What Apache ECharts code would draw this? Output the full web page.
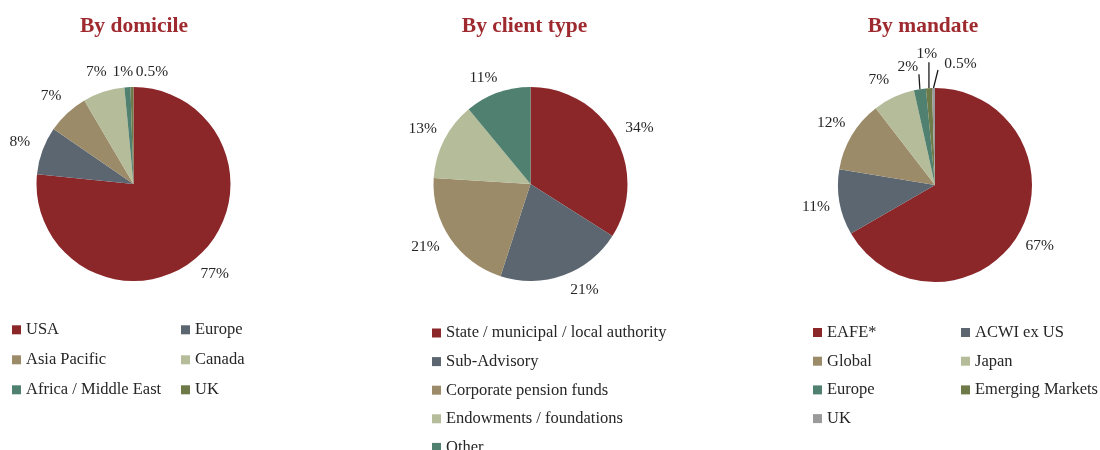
<!DOCTYPE html>
<html>
<head>
<meta charset="utf-8">
<script src="https://cdn.jsdelivr.net/npm/echarts@6/dist/echarts.min.js"></script>
<style>
  html, body { margin: 0; padding: 0; background: #ffffff; }
  #wrap { position: relative; width: 1100px; height: 450px; overflow: hidden; }
  .panel { position: absolute; top: 0; height: 480px; }
</style>
</head>
<body>
<div id="wrap">
  <div id="domicile" class="panel" style="left:0;width:268px"></div>
  <div id="client" class="panel" style="left:340px;width:369px"></div>
  <div id="mandate" class="panel" style="left:746px;width:354px"></div>
</div>
<script>
// ---- Data (percent of assets) ----
const domicileTitle = 'By domicile';
const domicileNames = ['USA', 'Europe', 'Asia Pacific', 'Canada', 'Africa / Middle East', 'UK'];
const domicileValues = [77, 8, 7, 7, 1, 0.5];

const clientTitle = 'By client type';
const clientNames = ['State / municipal / local authority', 'Sub-Advisory', 'Corporate pension funds',
  'Endowments / foundations', 'Other'];
const clientValues = [34, 21, 21, 13, 11];

const mandateTitle = 'By mandate';
const mandateNames = ['EAFE*', 'ACWI ex US', 'Global', 'Japan', 'Europe', 'Emerging Markets', 'UK'];
const mandateValues = [67, 11, 12, 7, 2, 1, 0.5];

// ---- Styling ----
const FONT = '"Liberation Serif", "Times New Roman", serif';
const TEXT = '#262626';
const TITLE_COLOR = '#9E2A2F';
const RED = '#8B2629', SLATE = '#5B6670', KHAKI = '#9C8B69', SAGE = '#B5BC99',
      TEAL = '#4F8070', OLIVE = '#6E7A48', GREY = '#9A9A9A';

const domicileColors = [RED, SLATE, KHAKI, SAGE, TEAL, OLIVE];
const clientColors = [RED, SLATE, KHAKI, SAGE, TEAL];
const mandateColors = [RED, SLATE, KHAKI, SAGE, TEAL, OLIVE, GREY];

const RADIUS = 97;
const LABEL_GAP = 24;

// Places each percentage label along its slice's mid-angle, outside the rim.
// tweaks[i] may nudge a label (dx/dy) or turn it into a callout with a leader line.
function radialLabels(values, cx, cy, r, gap, tweaks) {
  const total = values.reduce((a, b) => a + b, 0);
  return function (p) {
    const i = p.dataIndex;
    let before = 0;
    for (let k = 0; k < i; k++) before += values[k];
    const mid = (before + values[i] / 2) / total * Math.PI * 2;
    const sx = Math.sin(mid), sy = -Math.cos(mid);
    const ex = cx + r * sx, ey = cy + r * sy;
    const t = tweaks[i] || {};
    let x, y;
    if (t.callout) {
      x = ex + t.callout[0];
      y = ey + t.callout[1];
    } else {
      const d = r + gap;
      x = cx + d * sx + (t.dx || 0);
      y = cy + d * sy + (t.dy || 0);
    }
    const out = { x: x, y: y, align: 'center', verticalAlign: 'middle' };
    if (t.line) {
      const lx = ex + t.line[0], ly = ey + t.line[1];
      out.labelLinePoints = [[ex, ey], [(ex + lx) / 2, (ey + ly) / 2], [lx, ly]];
    }
    return out;
  };
}

function legendBlock(names, left, top, gap) {
  return {
    orient: 'vertical',
    left: left,
    top: top,
    padding: 0,
    itemGap: gap,
    itemWidth: 9,
    itemHeight: 9,
    icon: 'rect',
    selectedMode: false,
    data: names,
    textStyle: { fontFamily: FONT, fontSize: 16.5, color: TEXT, lineHeight: 16 }
  };
}

function makePie(el, cfg) {
  const chart = echarts.init(document.getElementById(el), null, { renderer: 'canvas' });
  const lined = cfg.lined || [];
  const data = cfg.names.map((n, i) => ({
    name: n,
    value: cfg.values[i],
    itemStyle: { color: cfg.colors[i] },
    labelLine: { show: lined.indexOf(i) >= 0 }
  }));
  chart.setOption({
    animation: false,
    title: {
      text: cfg.title,
      left: 'center',
      top: 10,
      textStyle: { fontFamily: FONT, fontWeight: 'bold', fontSize: 21.5, color: TITLE_COLOR }
    },
    legend: cfg.legends,
    series: [{
      type: 'pie',
      center: cfg.center,
      radius: [0, RADIUS],
      startAngle: 90,
      clockwise: true,
      avoidLabelOverlap: false,
      silent: true,
      emphasis: { disabled: true },
      itemStyle: { borderWidth: 0 },
      label: {
        show: true,
        position: 'outside',
        formatter: '{c}%',
        fontFamily: FONT,
        fontSize: 15.5,
        color: TEXT
      },
      labelLine: { show: false, lineStyle: { color: '#1a1a1a', width: 1.3 } },
      labelLayout: radialLabels(cfg.values, cfg.center[0], cfg.center[1], RADIUS, LABEL_GAP, cfg.tweaks || {}),
      data: data
    }]
  });
}

makePie('domicile', {
  title: domicileTitle,
  names: domicileNames,
  values: domicileValues,
  colors: domicileColors,
  center: [133.5, 184],
  tweaks: { 3: { dy: 3 }, 4: { callout: [-4.5, -15] }, 5: { callout: [20, -15] } },
  legends: [
    legendBlock([domicileNames[0], domicileNames[2], domicileNames[4]], 12, 321.3, 13),
    legendBlock([domicileNames[1], domicileNames[3], domicileNames[5]], 181, 321.3, 13)
  ]
});

makePie('client', {
  title: clientTitle,
  names: clientNames,
  values: clientValues,
  colors: clientColors,
  center: [190.5, 184],
  tweaks: { 0: { dx: 3, dy: 2 }, 1: { dx: 13, dy: -8 }, 2: { dx: -5, dy: -5 }, 4: { dx: -6, dy: 8 } },
  legends: [
    legendBlock(clientNames, 92, 324.5, 11.6)
  ]
});

makePie('mandate', {
  title: mandateTitle,
  names: mandateNames,
  values: mandateValues,
  colors: mandateColors,
  center: [189, 185],
  lined: [4, 5, 6],
  tweaks: {
    3: { dx: -5, dy: 5 },
    4: { callout: [-12, -22], line: [-1, -15] },
    5: { callout: [-2, -34], line: [0, -26] },
    6: { callout: [27, -24], line: [4.5, -18] }
  },
  legends: [
    legendBlock([mandateNames[0], mandateNames[2], mandateNames[4], mandateNames[6]], 67, 324, 11.7),
    legendBlock([mandateNames[1], mandateNames[3], mandateNames[5]], 215, 324, 11.7)
  ]
});
</script>
</body>
</html>
